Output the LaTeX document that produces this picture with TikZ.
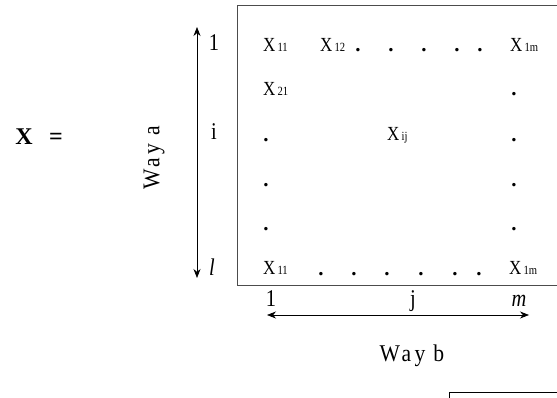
\documentclass[tikz,border=0pt]{standalone}
\usepackage{fontspec}
\setmainfont{Liberation Serif}[FakeStretch=0.85]
\newfontfamily\spc{Liberation Serif}[LetterSpace=14,FakeStretch=0.9]
\newfontfamily\boldx{Liberation Serif Bold}
\usetikzlibrary{arrows.meta}
\tikzset{
  cell/.style={inner sep=0pt, font=\fontsize{20}{20}\selectfont, anchor=base west},
  dot/.style={inner sep=0pt, font=\boldx\fontsize{21}{21}\selectfont, anchor=base},
  lab/.style={inner sep=0pt, font=\fontsize{24}{24}\selectfont, anchor=base},
  way/.style={inner sep=0pt, font=\spc\fontsize{24}{24}\selectfont},
  big/.style={inner sep=0pt, font=\boldx\fontsize{24}{24}\selectfont, anchor=base},
  dbl/.style={{Stealth[length=9pt,width=7pt]}-{Stealth[length=9pt,width=7pt]}, line width=0.7pt},
  frame/.style={line width=1pt, draw=black!70}
}
\newcommand{\sub}[1]{{\fontsize{12.5}{12.5}\selectfont\,#1}}
\begin{document}
\begin{tikzpicture}[x=1pt,y=-1pt]
\useasboundingbox (0,0) rectangle (557,398);
\clip (0,0) rectangle (557,398);
% main frame
\draw[frame] (570,6) -- (237,6) -- (237,285) -- (570,285);
% small box bottom right
\draw[line width=0.7pt] (449,410) -- (449,392) -- (570,392);
% X =
\node[big] (X) at (24,145) {X};
\node[big] (eq) at (56,145) {=};
% row 1
\node[cell] (x11) at (263,52) {X\sub{11}};
\node[cell] (x12) at (320,52) {X\sub{12}};
\foreach \i/\x in {1/358,2/391,3/424,4/457,5/480}{\node[dot] (r1d\i) at (\x,52) {.};}
\node[cell] (x1m) at (510,52) {X\sub{1m}};
% row 2
\node[cell] (x21) at (263,96) {X\sub{21}};
\node[dot] (r2d) at (514,96) {.};
% row 3
\node[dot] (r3a) at (266,142) {.};
\node[cell] (xij) at (387,141) {X\sub{ij}};
\node[dot] (r3b) at (514,142) {.};
% rows 4,5
\node[dot] (r4a) at (266,187) {.};
\node[dot] (r4b) at (514,187) {.};
\node[dot] (r5a) at (266,231) {.};
\node[dot] (r5b) at (514,231) {.};
% row 6
\node[cell] (xl1) at (263,274) {X\sub{11}};
\foreach \i/\x in {1/321,2/354,3/387,4/421,5/455,6/479}{\node[dot] (r6d\i) at (\x,276) {.};}
\node[cell] (xlm) at (509,274) {X\sub{1m}};
% way a
\coordinate (at) at (197,27);
\coordinate (ab) at (197,278);
\draw[dbl] (ab) -- (at);
\node[lab] (a1) at (214,51) {1};
\node[lab] (ai) at (214,140) {i};
\node[lab] (al) at (212,276) {\itshape l};
\node[way, rotate=90] (waya) at (154,158) {Way\hspace{8pt}a};
% way b
\node[lab] (b1) at (271,306) {1};
\node[lab] (bj) at (413,306) {j};
\node[lab] (bm) at (519,306) {\itshape m};
\coordinate (bl) at (267,315);
\coordinate (br) at (529,315);
\draw[dbl] (bl) -- (br);
\node[way] (wayb) at (412,356) {Way\hspace{8pt}b};
\end{tikzpicture}
\end{document}
